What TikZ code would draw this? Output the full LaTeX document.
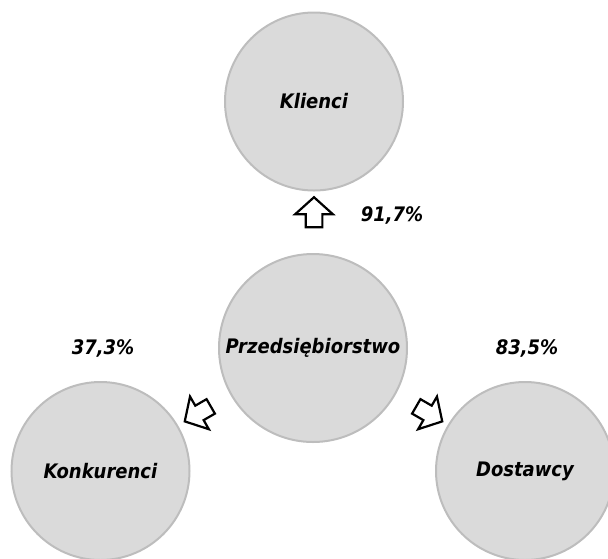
\documentclass[tikz,border=0pt]{standalone}
\usepackage{fontspec}
\setmainfont{DejaVu Sans Condensed}
\usetikzlibrary{shapes.arrows}
\definecolor{discfill}{HTML}{DADADA}
\definecolor{discline}{HTML}{BDBDBD}
\tikzset{
  labelfont/.style={font=\fontsize{20}{23}\selectfont\bfseries\itshape},
  disc/.style={circle, draw=discline, line width=2pt, fill=discfill,
    inner sep=0pt, labelfont},
  share/.style={labelfont},
  blockarrow/.style={single arrow, draw=black, fill=white, line width=2.2pt,
    inner xsep=0pt, inner ysep=7.25pt, minimum height=30pt,
    single arrow head extend=10.5pt, single arrow tip angle=96,
    line join=miter}
}
\begin{document}
\begin{tikzpicture}[x=1pt, y=-1pt]
  \useasboundingbox (0,0) rectangle (608,558);
  % central company and its three partners
  \node[disc, minimum size=188pt] (firm) at (313,348) {Przedsiębiorstwo};
  \node[disc, minimum size=178pt] (kl)   at (314,101.5) {Klienci};
  \node[disc, minimum size=178pt] (kon)  at (100.5,471) {Konkurenci};
  \node[disc, minimum size=178pt] (dos)  at (525,471) {Dostawcy};
  % outline arrows from the company towards each partner
  \node[blockarrow, rotate=90]  (toKl)  at (314,216) {};
  \node[blockarrow, rotate=210] (toKon) at (201,412) {};
  \node[blockarrow, rotate=330] (toDos) at (426,412) {};
  % shares
  \node[share] (pKl)  at (392,215) {91,7\%};
  \node[share] (pKon) at (103,348) {37,3\%};
  \node[share] (pDos) at (527,348) {83,5\%};
\end{tikzpicture}
\end{document}
